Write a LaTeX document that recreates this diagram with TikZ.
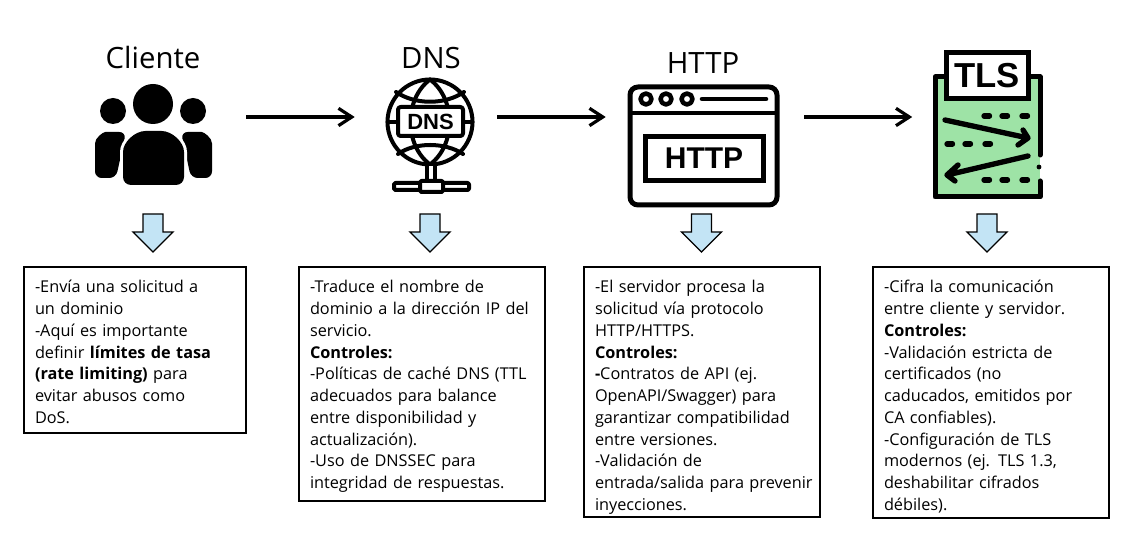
\documentclass[tikz,border=0pt]{standalone}
\usepackage{fontspec}
\setmainfont{Open Sans}
\newfontfamily\iconfont{Liberation Sans}
\usetikzlibrary{arrows.meta,positioning}
\definecolor{bajadaBlue}{HTML}{C3E4F5}
\definecolor{tlsGreen}{HTML}{9EE3A6}
\tikzset{
  titulo/.style  ={font=\fontsize{22}{25}\selectfont,inner sep=0pt},
  infobox/.style ={draw=black,line width=1.5pt,fill=white,anchor=north west,inner xsep=8.25pt,
                   inner ysep=0pt,outer sep=0pt,align=left,text height=19.5pt,
                   font=\fontsize{12.2}{16.3}\selectfont},
  iconzone/.style={inner sep=0pt},
  flow/.style    ={-{Straight Barb[length=10pt,width=13pt,line width=2.4pt]},line width=2.8pt},
  bajada/.style  ={draw=black,fill=bajadaBlue,line width=1pt,miter limit=10},
  icono/.style   ={draw=black,line width=3pt,line cap=round,line join=round},
  iconlbl/.style ={font=\iconfont\bfseries,inner sep=0pt},
}
\begin{document}
\begin{tikzpicture}[x=0.75pt,y=-0.75pt]
\useasboundingbox (0,0) rectangle (1137,548);

\node[titulo] (tCliente) at (153,58) {Cliente};
\node[titulo] (tDns) at (431,58) {DNS};
\node[titulo] (tHttp) at (703,63) {HTTP};

\node[iconzone,minimum width=87.75pt,minimum height=76.5pt] (iCliente) at (153.5,117) {};
\node[iconzone,minimum width=67.5pt,minimum height=84pt] (iDns) at (430,117) {};
\node[iconzone,minimum width=112.5pt,minimum height=91pt] (iHttp) at (703,117) {};
\node[iconzone,minimum width=82.5pt,minimum height=110pt] (iTls) at (986.5,117) {};

% cliente
\fill (153,104) circle (20);
\fill (113,111) circle (13);
\fill (193,111) circle (13);
\fill[rounded corners=5pt] (95,178) -- (95,150) .. controls (95,138) and (103,132) .. (112,132)
  -- (126,132) -- (116,178) -- cycle;
\fill[rounded corners=5pt] (212,178) -- (212,150) .. controls (212,138) and (204,132) .. (195,132)
  -- (181,132) -- (191,178) -- cycle;
\fill[rounded corners=6pt,preaction={draw=white,line width=4.5pt}] (123,185) -- (123,160)
  .. controls (123,142) and (135,131) .. (153.5,131) .. controls (172,131) and (184,142) .. (184,160)
  -- (184,185) -- cycle;

% dns
\draw[icono] (430,122) circle (42.5);
\draw[icono] (430,79.5) .. controls (404,99) and (404,145) .. (430,164.5);
\draw[icono] (430,79.5) .. controls (456,99) and (456,145) .. (430,164.5);
\draw[icono] (396,92) .. controls (415,105) and (445,105) .. (464,92);
\draw[icono] (398,154) .. controls (415,142) and (445,142) .. (463,154);
\draw[icono] (387.5,122) -- (472.5,122);
\draw[icono,fill=white,rounded corners=2pt] (398,107) rectangle (463,136);
\node[iconlbl,font=\iconfont\bfseries\fontsize{16.5}{16.5}\selectfont] (lDns) at (430.5,122) {DNS};
\draw[icono,fill=white] (427,164) rectangle (435,181);
\draw[icono,fill=white,rounded corners=1pt] (394,183) rectangle (469,190);
\draw[icono,fill=white,rounded corners=1pt] (420,181) rectangle (443,192);

% http
\draw[icono,line width=3.75pt,rounded corners=6pt] (630,87) rectangle (777,205);
\draw[icono] (630,113) -- (777,113);
\foreach \cx in {646,666,687}
  \draw[icono,line width=3.4pt] (\cx,99) circle (5.5);
\draw[icono,line width=3.4pt] (702,99) -- (766,99);
\draw[icono,line width=3.75pt,line join=miter] (645,137) rectangle (763,181);
\node[iconlbl,font=\iconfont\bfseries\fontsize{22.5}{23}\selectfont] (lHttp) at (704,158) {HTTP};

% tls
\fill[tlsGreen] (935,77) rectangle (1040,197);
\draw[icono,line width=3.75pt] (1040,155) -- (1040,77) -- (935,77) -- (935,197) -- (1040,197) -- (1040,181);
\fill (1039,167) circle (2.4);
\draw[icono,line width=3.75pt,fill=white,line join=miter] (946,53) rectangle (1028,99);
\node[iconlbl,font=\iconfont\bfseries\fontsize{26}{26}\selectfont] (lTls) at (987,75.5) {TLS};
\foreach \dy/\dx in {116/984,116/1002,116/1022,144/947,144/965,144/985,180/984,180/1002,180/1022}
  \draw[icono,line width=4pt] (\dx,\dy) -- ++(5.5,0);
\draw[icono,line width=4pt] (945,120) -- (1028,138) (1023,130) -- (1028,138) -- (1018,145);
\draw[icono,line width=4pt] (1028,156) -- (947,175) (958,165) -- (947,175) -- (955,181);

\draw[flow,shorten <=25.5pt,shorten >=22.5pt] (iCliente) -- (iDns);
\draw[flow,shorten <=16.5pt,shorten >=16.5pt] (iDns) -- (iHttp);
\draw[flow,shorten <=19.5pt,shorten >=14.25pt] (iHttp) -- (iTls);

\foreach \x in {153,430,701.5,987}
  \draw[bajada] (\x-10,214) -- (\x+10,214) -- (\x+10,232) -- (\x+20,232) -- (\x,252)
    -- (\x-20,232) -- (\x-10,232) -- cycle;

\node[infobox,text width=150pt,text depth=105pt] (bCliente) at (24,267)
  {-Envía una solicitud a\\
   un dominio\\
   -Aquí es importante\\
   definir \textbf{límites de tasa}\\
   \textbf{(rate limiting)} para\\
   evitar abusos como\\
   DoS.};
\node[infobox,text width=168pt,text depth=156pt] (bDns) at (299,267)
  {-Traduce el nombre de\\
   dominio a la dirección IP del\\
   servicio.\\
   \textbf{Controles:}\\
   -Políticas de caché DNS (TTL\\
   adecuados para balance\\
   entre disponibilidad y\\
   actualización).\\
   -Uso de DNSSEC para\\
   integridad de respuestas.};
\node[infobox,text width=160.5pt,text depth=168pt] (bHttp) at (584,267)
  {-El servidor procesa la\\
   solicitud vía protocolo\\
   HTTP/HTTPS.\\
   \textbf{Controles:}\\
   \textbf{-}Contratos de API (ej.\\
   OpenAPI/Swagger) para\\
   garantizar compatibilidad\\
   entre versiones.\\
   -Validación de\\
   \mbox{entrada/salida para prevenir}\\
   inyecciones.};
\node[infobox,text width=160.5pt,text depth=168.75pt] (bTls) at (873,267)
  {-Cifra la comunicación\\
   entre cliente y servidor.\\
   \textbf{Controles:}\\
   -Validación estricta de\\
   certificados (no\\
   caducados, emitidos por\\
   CA confiables).\\
   -Configuración de TLS\\
   modernos (ej. TLS 1.3,\\
   deshabilitar cifrados\\
   débiles).};
\end{tikzpicture}
\end{document}
